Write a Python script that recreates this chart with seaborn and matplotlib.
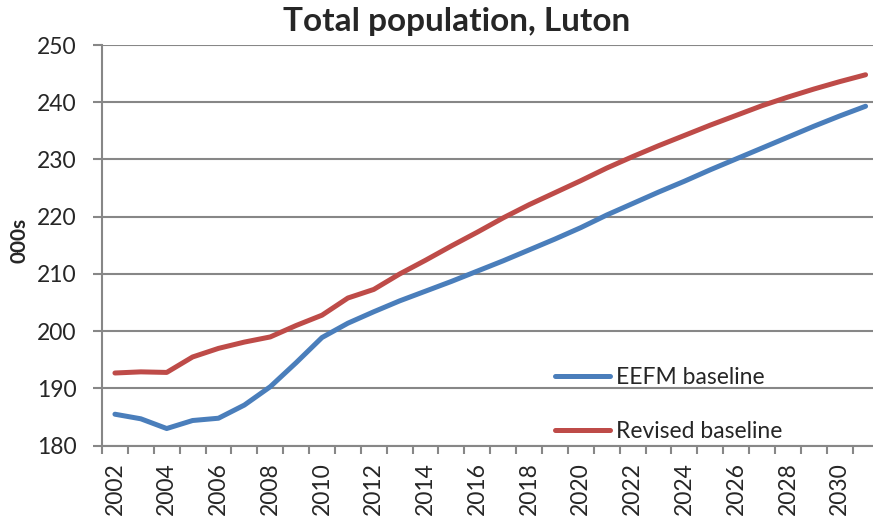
import numpy as np
import pandas as pd
import matplotlib
matplotlib.use("Agg")
import matplotlib.pyplot as plt
from matplotlib.ticker import FixedLocator
import seaborn as sns

# values (thousands)
years = list(range(2002, 2032))
eefm = [185.5, 184.7, 183.0, 184.4, 184.8, 187.1, 190.3, 194.5, 198.9, 201.4,
        203.4, 205.3, 207.0, 208.7, 210.5, 212.3, 214.2, 216.1, 218.1, 220.3,
        222.3, 224.3, 226.2, 228.2, 230.1, 232.0, 233.9, 235.8, 237.6, 239.3]
revised = [192.7, 192.9, 192.8, 195.5, 197.0, 198.1, 199.0, 201.0, 202.8, 205.8,
           207.3, 210.0, 212.4, 214.9, 217.3, 219.8, 222.1, 224.2, 226.3, 228.5,
           230.5, 232.4, 234.2, 236.0, 237.7, 239.4, 240.9, 242.3, 243.6, 244.8]
series_names = ["EEFM baseline", "Revised baseline"]
series_colors = ["#4A7EBB", "#BE4B48"]
y_ticks = [180, 190, 200, 210, 220, 230, 240, 250]
x_labels = [str(y) for y in years[::2]]

df = pd.DataFrame({"year": years, series_names[0]: eefm, series_names[1]: revised})
long_df = df.melt(id_vars="year", var_name="series", value_name="pop")

sns.set_style("white")
plt.rcParams["font.family"] = ["Lato", "DejaVu Sans"]

W, H = 873, 519
fig = plt.figure(figsize=(W / 100, H / 100), dpi=100)
# plot area runs slightly past the right edge of the image, as in the reference
ax = fig.add_axes([102 / W, 1 - 445.7 / H, 776.5 / W, (445.7 - 45) / H])

sns.lineplot(data=long_df, x="year", y="pop", hue="series",
             palette=dict(zip(series_names, series_colors)),
             linewidth=3.6, ax=ax, legend=True)
for ln in ax.lines:
    ln.set_solid_capstyle("round")
    ln.set_solid_joinstyle("round")

ax.set_xlim(years[0] - 0.5, years[-1] + 0.5)
ax.set_ylim(180, 250)
ax.set_yticks(y_ticks)
ax.set_xticks(years[::2])
ax.set_xticklabels(x_labels, rotation=90)
ax.xaxis.set_minor_locator(FixedLocator(np.arange(years[0] - 0.5, years[-1] + 1, 1)))

ax.grid(axis="y", color="#878787", linewidth=1.5)
ax.set_axisbelow(True)
for side in ["top", "right"]:
    ax.spines[side].set_visible(False)
for side in ["left", "bottom"]:
    ax.spines[side].set_color("#878787")
    ax.spines[side].set_linewidth(1.5)

ax.tick_params(axis="y", which="major", length=6.5, width=1.5, color="#878787",
               direction="out", labelsize=16.5, pad=12, left=True)
ax.tick_params(axis="x", which="major", length=0, labelsize=16.5, pad=12, bottom=True)
ax.tick_params(axis="x", which="minor", length=6, width=1.5, color="#878787",
               direction="out", bottom=True)

ax.set_xlabel("")
ax.set_ylabel("000s", fontsize=15, fontweight="bold", va="center")
ax.yaxis.set_label_coords((19 - 102) / 776.5, (445.7 - 240) / 400.7)
fig.text(457 / W, 1 - 22 / H, "Total population, Luton", ha="center", va="center",
         fontsize=24, fontweight="bold")

ax.legend(loc="upper left", bbox_to_anchor=(555 / W, 1 - 367 / H),
          bbox_transform=fig.transFigure, frameon=False, fontsize=16.5,
          handlelength=2.4, handletextpad=0.25, labelspacing=1.45,
          borderpad=0, borderaxespad=0, title=None)

fig.savefig("out.png", dpi=100)
